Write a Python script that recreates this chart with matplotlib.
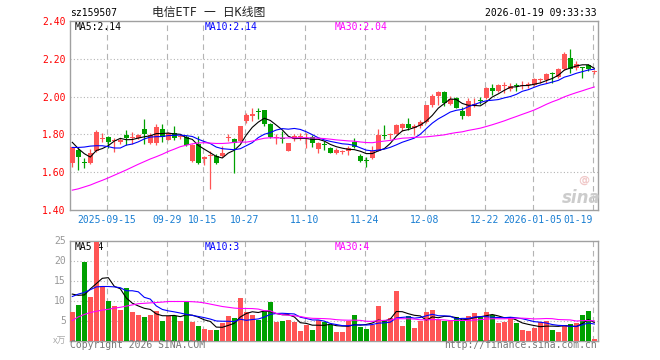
import matplotlib
matplotlib.use('Agg')
import matplotlib.pyplot as plt
import numpy as np

# ---------------- data ----------------
opens = [1.647, 1.72, 1.652, 1.65, 1.71, 1.775, 1.787, 1.765, 1.758, 1.797,
         1.783, 1.781, 1.828, 1.754, 1.752, 1.827, 1.772, 1.81, 1.785, 1.787,
         1.661, 1.749, 1.67, 1.686, 1.687, 1.685, 1.779, 1.775, 1.764, 1.872,
         1.90, 1.925, 1.929, 1.855, 1.779, 1.782, 1.714, 1.776, 1.787, 1.778,
         1.784, 1.723, 1.747, 1.728, 1.702, 1.709, 1.714, 1.761, 1.687, 1.66,
         1.675, 1.714, 1.797, 1.797, 1.802, 1.835, 1.854, 1.834, 1.845, 1.866,
         1.954, 2.005, 2.024, 1.96, 1.994, 1.924, 1.898, 1.952, 1.978, 1.991,
         2.047, 2.03, 2.054, 2.04, 2.058, 2.058, 2.059, 2.061, 2.087, 2.087,
         2.122, 2.105, 2.147, 2.205, 2.152, 2.15, 2.165, 2.132]
highs = [1.735, 1.728, 1.673, 1.725, 1.822, 1.81, 1.79, 1.78, 1.78, 1.824,
         1.815, 1.80, 1.881, 1.81, 1.855, 1.855, 1.815, 1.842, 1.80, 1.795,
         1.75, 1.79, 1.685, 1.71, 1.695, 1.74, 1.80, 1.78, 1.845, 1.915,
         1.942, 1.942, 1.93, 1.86, 1.80, 1.82, 1.755, 1.80, 1.805, 1.805,
         1.796, 1.76, 1.765, 1.735, 1.728, 1.72, 1.74, 1.78, 1.695, 1.679,
         1.74, 1.828, 1.849, 1.81, 1.857, 1.862, 1.886, 1.855, 1.875, 1.958,
         2.012, 2.03, 2.03, 2.003, 1.998, 1.945, 1.994, 1.99, 1.998, 2.05,
         2.065, 2.065, 2.077, 2.07, 2.073, 2.08, 2.077, 2.10, 2.10, 2.126,
         2.13, 2.152, 2.235, 2.252, 2.19, 2.158, 2.17, 2.14]
lows = [1.626, 1.61, 1.62, 1.645, 1.705, 1.76, 1.728, 1.705, 1.75, 1.745,
        1.75, 1.775, 1.75, 1.749, 1.745, 1.76, 1.77, 1.772, 1.775, 1.74,
        1.655, 1.645, 1.64, 1.51, 1.645, 1.678, 1.765, 1.598, 1.76, 1.862,
        1.872, 1.88, 1.845, 1.78, 1.75, 1.755, 1.71, 1.765, 1.77, 1.73,
        1.735, 1.70, 1.717, 1.70, 1.695, 1.697, 1.693, 1.73, 1.652, 1.626,
        1.67, 1.71, 1.775, 1.775, 1.80, 1.82, 1.822, 1.797, 1.836, 1.862,
        1.945, 1.954, 1.95, 1.955, 1.94, 1.88, 1.895, 1.945, 1.96, 1.985,
        2.01, 2.025, 2.021, 2.03, 2.03, 2.04, 2.047, 2.055, 2.073, 2.073,
        2.073, 2.10, 2.14, 2.126, 2.14, 2.10, 2.135, 2.117]
closes = [1.731, 1.68, 1.648, 1.70, 1.815, 1.782, 1.758, 1.768, 1.772, 1.779,
          1.787, 1.797, 1.802, 1.798, 1.837, 1.788, 1.81, 1.78, 1.788, 1.745,
          1.745, 1.651, 1.68, 1.692, 1.65, 1.703, 1.782, 1.753, 1.842, 1.905,
          1.905, 1.92, 1.855, 1.784, 1.782, 1.778, 1.752, 1.792, 1.79, 1.781,
          1.752, 1.756, 1.744, 1.703, 1.72, 1.713, 1.726, 1.735, 1.661, 1.657,
          1.714, 1.798, 1.793, 1.80, 1.849, 1.853, 1.833, 1.845, 1.866, 1.956,
          2.003, 2.024, 1.968, 1.986, 1.942, 1.898, 1.977, 1.963, 1.975, 2.044,
          2.031, 2.059, 2.057, 2.058, 2.055, 2.062, 2.062, 2.091, 2.091, 2.117,
          2.118, 2.147, 2.228, 2.147, 2.17, 2.149, 2.148, 2.135]
volumes = [7.1, 9.0, 19.6, 10.8, 24.6, 13.75, 9.8, 8.75, 7.75, 13.1,
           7.25, 6.35, 5.8, 6.35, 7.5, 5.0, 6.25, 6.25, 4.8, 9.8,
           4.6, 3.75, 2.9, 2.75, 2.75, 4.35, 6.1, 5.6, 10.6, 7.1,
           6.5, 5.2, 7.5, 9.75, 4.75, 5.0, 5.25, 4.75, 2.5, 3.9,
           2.75, 5.2, 4.6, 3.9, 2.08, 2.25, 5.0, 6.5, 3.33, 3.0,
           4.0, 8.75, 5.25, 5.75, 12.5, 3.75, 6.25, 3.25, 5.0, 7.25,
           7.75, 5.2, 5.0, 4.8, 5.8, 5.0, 6.1, 6.8, 6.0, 7.1,
           6.5, 4.3, 4.6, 6.0, 4.3, 2.75, 2.5, 3.1, 4.6, 5.0,
           2.75, 2.25, 3.9, 4.2, 4.3, 6.5, 7.3, 0.33]

# moving-average values at the left edge (window starts before the chart)
ma5_head = [1.758, 1.725, 1.698, 1.68]
ma10_head = [1.731, 1.731, 1.733, 1.738, 1.74, 1.74, 1.735, 1.728, 1.728]
ma30_head = [1.505, 1.512, 1.522, 1.532, 1.545, 1.557, 1.57, 1.584, 1.598, 1.612,
             1.627, 1.642, 1.656, 1.670, 1.682, 1.695, 1.710, 1.722, 1.735, 1.743,
             1.750, 1.755, 1.756, 1.754, 1.752, 1.752, 1.754, 1.758, 1.760]
vma5_head = [11.6, 11.3, 11.4, 12.9]
vma10_head = [11.0, 11.6, 12.0, 12.7, 13.4, 13.5, 13.5, 13.4, 13.2]
vma30_head = [5.0, 5.9, 6.5, 7.0, 7.3, 7.6, 7.8, 8.1, 8.3, 8.6,
              8.9, 9.2, 9.3, 9.4, 9.5, 9.6, 9.75, 9.75, 9.75, 9.75,
              9.7, 9.6, 9.4, 9.1, 8.8, 8.5, 8.3, 8.1, 8.0]

date_tick_idx = [6, 16, 22, 29, 39, 49, 59, 69, 77, 87]
date_tick_labels = ['2025-09-15', '09-29', '10-15', '10-27', '11-10',
                    '11-24', '12-08', '12-22', '2026-01-05', '01-19']
price_ticks = [1.40, 1.60, 1.80, 2.00, 2.20, 2.40]
vol_ticks = [5, 10, 15, 20, 25]

code = 'sz159507'
title = '电信ETF 一 日K线图'
timestamp = '2026-01-19 09:33:33'
price_legend = ['MA5:2.14', 'MA10:2.14', 'MA30:2.04']
vol_legend = ['MA5:4', 'MA10:3', 'MA30:4']

# ---------------- helpers ----------------
def moving_avg(vals, n, head):
    out = []
    for i in range(len(vals)):
        if i < n - 1:
            out.append(head[i])
        else:
            out.append(float(np.mean(vals[i - n + 1:i + 1])))
    return np.array(out)

W, H = 660, 360
MONO = ['DejaVu Sans Mono', 'Noto Sans CJK SC']
RED = '#ff5555'
GREEN = '#00a000'
GRID = '#b4b4b4'
FRAME = '#a0a0a0'

def fx(x):
    return x / W

def fy(y):
    return 1 - y / H

fig = plt.figure(figsize=(6.6, 3.6), dpi=100)
fig.patch.set_facecolor('white')

L, R = 70, 597.7
ax = fig.add_axes([fx(L), fy(210), (R - L) / W, (210 - 21) / H])
axv = fig.add_axes([fx(L), fy(340.5), (R - L) / W, (340.5 - 240.5) / H])

n = len(closes)
x = np.arange(n)
o = np.array(opens); c = np.array(closes)
hi = np.array(highs); lo = np.array(lows)
up = c >= o
cols = [RED if u else GREEN for u in up]

xlim = (-0.383, 87.567)
for a in (ax, axv):
    a.set_xlim(*xlim)
    for s in a.spines.values():
        s.set_color(FRAME)
        s.set_linewidth(1.0)
    for g in date_tick_idx:
        a.axvline(g - 0.27, color=GRID, lw=0.8, ls=(0, (5, 3.5)), zorder=0)

# price panel
ax.set_ylim(1.40, 2.40)
for yv in price_ticks[1:-1]:
    ax.axhline(yv, color=GRID, lw=0.8, ls=(0, (1, 2)), zorder=0)
ax.vlines(x, lo, hi, colors=cols, lw=0.9, zorder=2)
body_bottom = np.minimum(o, c)
body_h = np.maximum(np.abs(c - o), 0.0055)
ax.bar(x, body_h, bottom=body_bottom, width=0.78, color=cols, linewidth=0, zorder=3)
ax.plot(x, moving_avg(closes, 5, ma5_head), color='black', lw=0.8, zorder=4)
ax.plot(x, moving_avg(closes, 10, ma10_head), color='#0000ff', lw=0.8, zorder=4)
ax.plot(x, moving_avg(closes, 30, ma30_head), color='#ff00ff', lw=0.8, zorder=4)

ax.set_yticks(price_ticks)
ax.set_yticklabels(['%.2f' % t for t in price_ticks])
ax.tick_params(axis='y', length=0, pad=3, labelcolor='#ff0000', labelsize=7)
ax.set_xticks([g - 0.27 for g in date_tick_idx])
ax.set_xticklabels(date_tick_labels)
ax.tick_params(axis='x', length=0, pad=3.5, labelcolor='#1a7ed2', labelsize=7)
for lab in ax.get_yticklabels() + ax.get_xticklabels():
    lab.set_family(MONO)
ax.get_xticklabels()[-1].set_horizontalalignment('right')

# volume panel
axv.set_ylim(0, 25)
for yv in vol_ticks[:-1]:
    axv.axhline(yv, color=GRID, lw=0.8, ls=(0, (1, 2)), zorder=0)
axv.bar(x, volumes, width=0.83, color=cols, linewidth=0, zorder=3)
axv.plot(x, moving_avg(volumes, 5, vma5_head), color='black', lw=0.8, zorder=4)
axv.plot(x, moving_avg(volumes, 10, vma10_head), color='#0000ff', lw=0.8, zorder=4)
axv.plot(x, moving_avg(volumes, 30, vma30_head), color='#ff00ff', lw=0.8, zorder=4)
axv.set_yticks(vol_ticks)
axv.set_yticklabels([str(t) for t in vol_ticks])
axv.tick_params(axis='y', length=0, pad=3, labelcolor='#999999', labelsize=7)
axv.set_xticks([])
for lab in axv.get_yticklabels():
    lab.set_family(MONO)

# texts
fs = 7
fig.text(fx(70), fy(13), code, fontsize=fs, family=MONO, color='black', ha='left', va='center')
fig.text(fx(209), fy(12.5), title, fontsize=8.5, family=MONO, color='#222222', ha='center', va='center')
fig.text(fx(597), fy(13), timestamp, fontsize=fs, family=MONO, color='black', ha='right', va='center')

leg_x = [75, 205, 335]
leg_c = ['black', '#0000ff', '#ff00ff']
for t, xx, cc in zip(price_legend, leg_x, leg_c):
    ax.text(fx(xx), fy(27), t, fontsize=fs, family=MONO, color=cc, ha='left', va='center',
            transform=fig.transFigure, zorder=1)
for t, xx, cc in zip(vol_legend, leg_x, leg_c):
    axv.text(fx(xx), fy(247), t, fontsize=fs, family=MONO, color=cc, ha='left', va='center',
             transform=fig.transFigure, zorder=1)

fig.text(fx(66), fy(341), 'x万', fontsize=6.5, family=['Noto Sans CJK SC', 'DejaVu Sans'], color='#aaaaaa', ha='right', va='center')
fig.text(fx(70), fy(345.5), 'Copyright 2026 SINA.COM', fontsize=fs, family=MONO, color='#777777', ha='left', va='center')
fig.text(fx(597), fy(345.5), 'http://finance.sina.com.cn', fontsize=fs, family=MONO, color='#777777', ha='right', va='center')

# sina watermark
fig.text(fx(581), fy(198), 'sina', fontsize=12, family='DejaVu Sans', weight='bold', style='italic',
         color='#cccccc', ha='center', va='center')
fig.text(fx(584), fy(180), '@', fontsize=8, family='DejaVu Sans', weight='bold',
         color='#f0c8c8', ha='center', va='center')

fig.savefig('out.png', dpi=100, facecolor='white')
